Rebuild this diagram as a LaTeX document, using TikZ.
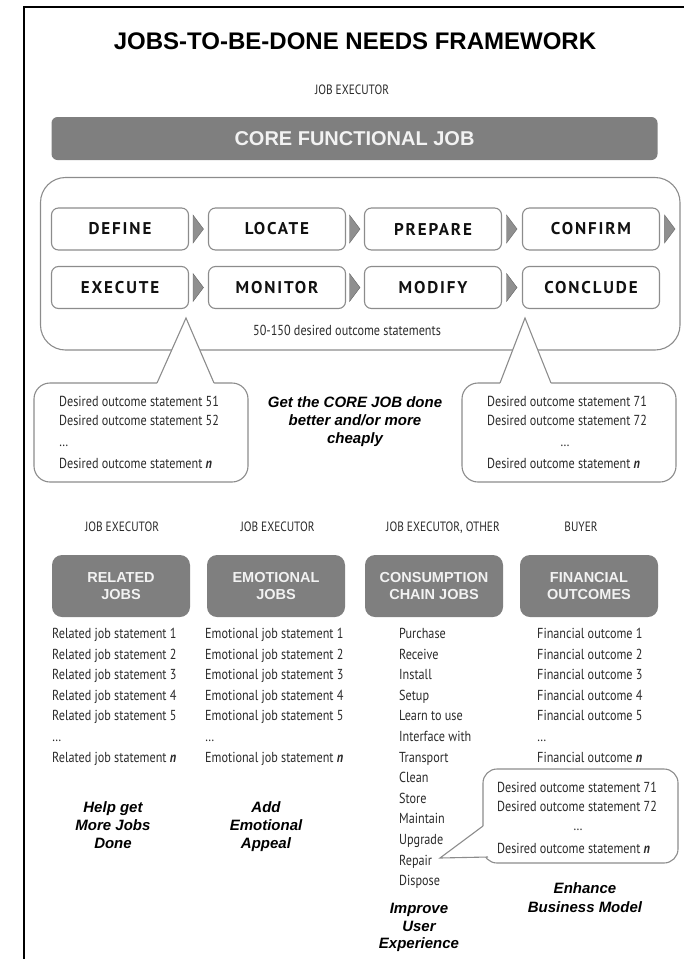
\documentclass[tikz,border=0pt]{standalone}
\usepackage{fontspec}
\setmainfont{Liberation Sans}
\newfontfamily\condfont{PT Sans}[FakeStretch=0.84]
\newfontfamily\stepfont{PT Sans}[LetterSpace=11]
\usetikzlibrary{calc}

\definecolor{graybg}{HTML}{7F7F7F}
\definecolor{graytext}{HTML}{F2F2F2}
\definecolor{boxline}{HTML}{8C8C8C}
\definecolor{bodyink}{HTML}{2A2A2A}
\definecolor{stepink}{HTML}{111111}
\definecolor{chev}{HTML}{8F8F8F}

\begin{document}
\begin{tikzpicture}[x=1pt,y=-1pt,
  outline/.style={draw=boxline, line width=1.1pt},
  stepbox/.style={draw=boxline, line width=1.1pt, fill=white, rounded corners=7pt,
    minimum width=137pt, minimum height=42pt, inner sep=0pt,
    font=\stepfont\bfseries\fontsize{17}{20}\selectfont, text=stepink},
  graybox/.style={fill=graybg, rounded corners=10pt, minimum width=138pt,
    minimum height=62pt, align=center, text=graytext, inner sep=0pt,
    font=\bfseries\fontsize{14.5}{17}\selectfont},
  listtxt/.style={font=\condfont\fontsize{14.5}{17}\selectfont, text=bodyink,
    inner sep=0pt, anchor=base west},
  headtxt/.style={font=\condfont\fontsize{13.5}{16}\selectfont, text=bodyink,
    inner sep=0pt, anchor=base},
  motto/.style={font=\bfseries\itshape\fontsize{15}{18}\selectfont, text=black,
    inner sep=0pt, anchor=base},
  chevron/.style={fill=chev, draw=chev!70!black, line width=0.4pt},
  bubble/.style={draw=boxline, line width=1.1pt, fill=white, rounded corners=16pt,
    inner sep=0pt},
  pointer/.style={draw=boxline, line width=1.1pt, line join=miter}
]
\useasboundingbox (0,0) rectangle (684,959);

% frame
\draw[line width=2.2pt, black] (24,959) -- (24,7) -- (684,7);

% heading
\node[font=\bfseries\fontsize{24}{27}\selectfont, anchor=base] (title) at (355,49)
  {JOBS-TO-BE-DONE NEEDS FRAMEWORK};
\node[headtxt] (exec) at (352,94.5) {JOB EXECUTOR};

\node[fill=graybg, rounded corners=6pt, minimum width=606pt, minimum height=43pt,
  inner sep=0pt, text=graytext, font=\bfseries\fontsize{20}{24}\selectfont]
  (core) at (354.5,138.5) {CORE FUNCTIONAL JOB};

% job map container
\draw[outline, rounded corners=25pt] (40.5,177.5) rectangle (680,350);

\foreach \nm/\txt/\x/\y in {define/DEFINE/120/229, locate/LOCATE/277/229,
    prepare/PREPARE/433/229, confirm/CONFIRM/591/229,
    execute/EXECUTE/120/287.5, monitor/MONITOR/277/287.5,
    modify/MODIFY/433/287.5, conclude/CONCLUDE/591/287.5}
  \node[stepbox] (\nm) at (\x,\y) {\txt};

\coordinate (ch1) at ($(define.east)!0.5!(locate.west)$);
\coordinate (ch2) at ($(locate.east)!0.5!(prepare.west)$);
\coordinate (ch3) at ($(prepare.east)!0.5!(confirm.west)$);
\coordinate (ch4) at ($(confirm.east)+(10,0)$);
\coordinate (ch5) at ($(execute.east)!0.5!(monitor.west)$);
\coordinate (ch6) at ($(monitor.east)!0.5!(modify.west)$);
\coordinate (ch7) at ($(modify.east)!0.5!(conclude.west)$);
\foreach \c in {ch1,ch2,ch3,ch4,ch5,ch6,ch7}
  \fill[chevron, shift={(\c)}] (-5.5,-14) -- (5,0) -- (-5.5,14) -- cycle;

\node[listtxt, anchor=base] (count) at (347,335) {50-150 desired outcome statements};

% outcome bubbles under the job map
\node[bubble, minimum width=214pt, minimum height=99pt] (lbub) at (141,432.5) {};
\node[bubble, minimum width=214pt, minimum height=99pt] (rbub) at (569,432.5) {};

\coordinate (lpA) at (186,318);
\coordinate (lpL) at (157,383);
\coordinate (lpR) at (214,383);
\fill[white] (lpA) -- (lpL) -- ($(lpL)+(0,4)$) -- ($(lpR)+(0,4)$) -- (lpR) -- cycle;
\draw[pointer] (lpL) -- (lpA) -- (lpR);

\coordinate (rpA) at (525,318);
\coordinate (rpL) at (500,383);
\coordinate (rpR) at (551,383);
\fill[white] (rpA) -- (rpL) -- ($(rpL)+(0,4)$) -- ($(rpR)+(0,4)$) -- (rpR) -- cycle;
\draw[pointer] (rpL) -- (rpA) -- (rpR);

\node[listtxt] (l1) at (59,406) {Desired outcome statement 51};
\node[listtxt] (l2) at (59,425) {Desired outcome statement 52};
\node[listtxt] (l3) at (59,446) {\ldots};
\node[listtxt] (l4) at (59,468) {Desired outcome statement \textbf{\textit{n}}};

\node[listtxt] (r1) at (487,406) {Desired outcome statement 71};
\node[listtxt] (r2) at (487,425) {Desired outcome statement 72};
\node[listtxt, anchor=base] (r3) at (565,446) {\ldots};
\node[listtxt] (r4) at (487,468) {Desired outcome statement \textbf{\textit{n}}};

\node[motto] (g1) at (355,407) {Get the CORE JOB done};
\node[motto] (g2) at (355,425) {better and/or more};
\node[motto] (g3) at (355,443) {cheaply};

% four need categories
\node[headtxt] (h1) at (122,531.5) {JOB EXECUTOR};
\node[headtxt] (h2) at (277.5,531.5) {JOB EXECUTOR};
\node[headtxt] (h3) at (443,531.5) {JOB EXECUTOR, OTHER};
\node[headtxt] (h4) at (581,531.5) {BUYER};

\node[graybox] (related) at (121,586) {RELATED\\JOBS};
\node[graybox] (emotional) at (276,586) {EMOTIONAL\\JOBS};
\node[graybox] (consumption) at (434,586) {CONSUMPTION\\CHAIN JOBS};
\node[graybox] (financial) at (589,586) {FINANCIAL\\OUTCOMES};

\foreach \t [count=\i] in {Related job statement 1, Related job statement 2,
    Related job statement 3, Related job statement 4, Related job statement 5,
    \ldots, Related job statement \textbf{\textit{n}}}
  \node[listtxt] (rel\i) at (52,{638.5+20.6*(\i-1)}) {\t};

\foreach \t [count=\i] in {Emotional job statement 1, Emotional job statement 2,
    Emotional job statement 3, Emotional job statement 4, Emotional job statement 5,
    \ldots, Emotional job statement \textbf{\textit{n}}}
  \node[listtxt] (emo\i) at (205,{638.5+20.6*(\i-1)}) {\t};

\foreach \t [count=\i] in {Purchase, Receive, Install, Setup, Learn to use,
    Interface with, Transport, Clean, Store, Maintain, Upgrade, Repair, Dispose}
  \node[listtxt] (cc\i) at (399,{638.5+20.6*(\i-1)}) {\t};

\foreach \t [count=\i] in {Financial outcome 1, Financial outcome 2,
    Financial outcome 3, Financial outcome 4, Financial outcome 5,
    \ldots, Financial outcome \textbf{\textit{n}}}
  \node[listtxt] (fin\i) at (537,{638.5+20.6*(\i-1)}) {\t};

% outcome bubble attached to "Repair"
\node[bubble, rounded corners=14pt, minimum width=195pt, minimum height=94pt]
  (bbub) at (580.5,816) {};
\coordinate (bpT) at (440,858);
\coordinate (bpU) at (483,826);
\coordinate (bpD) at (488,857);
\fill[white] (bpT) -- (bpU) -- ($(bpU)+(5,0)$) -- ($(bpD)+(4,-3)$) -- (bpD) -- cycle;
\draw[pointer] (bpU) -- (bpT) -- (bpD);

\node[listtxt] (b1) at (497,792) {Desired outcome statement 71};
\node[listtxt] (b2) at (497,811) {Desired outcome statement 72};
\node[listtxt, anchor=base] (b3) at (578,830) {\ldots};
\node[listtxt] (b4) at (497,853) {Desired outcome statement \textbf{\textit{n}}};

% benefit captions
\node[motto] (m1) at (113,812.5) {Help get};
\node[motto] (m2) at (113,830.5) {More Jobs};
\node[motto] (m3) at (113,848) {Done};
\node[motto] (m4) at (266,812.5) {Add};
\node[motto] (m5) at (266,830.5) {Emotional};
\node[motto] (m6) at (266,848) {Appeal};
\node[motto] (m7) at (419,913) {Improve};
\node[motto] (m8) at (419,931) {User};
\node[motto] (m9) at (419,948.5) {Experience};
\node[motto] (m10) at (585,893) {Enhance};
\node[motto] (m11) at (585,912) {Business Model};
\end{tikzpicture}
\end{document}
